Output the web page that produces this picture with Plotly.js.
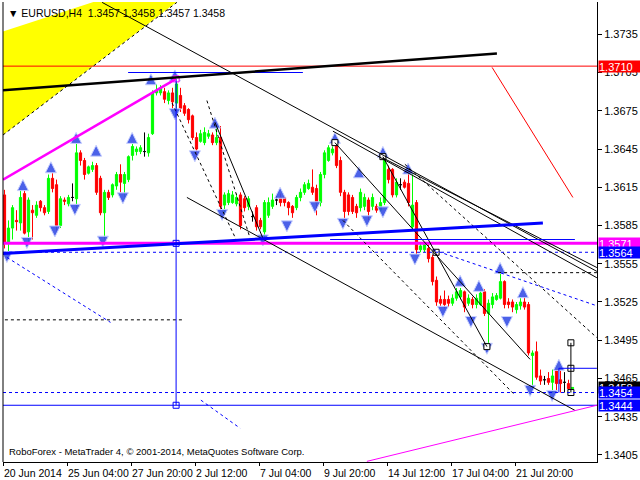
<!DOCTYPE html>
<html><head><meta charset="utf-8">
<script src="https://cdn.plot.ly/plotly-3.0.1.min.js"></script>
<style>html,body{margin:0;padding:0;background:#fff}#chart{width:640px;height:480px}</style>
</head><body><div id="chart"></div>
<script>
// ---- candle data (EURUSD H4), bar index = position in arrays ----
const openP  = [1.3609,1.3571,1.3583,1.3589,1.3587,1.3610,1.3580,1.3597,1.3593,1.3604,1.3599,1.3596,1.3622,1.3617,1.3585,1.3605,1.3602,1.3607,1.3606,1.3642,1.3636,1.3626,1.3629,1.3632,1.3622,1.3595,1.3611,1.3609,1.3616,1.3625,1.3618,1.3621,1.3640,1.3643,1.3643,1.3643,1.3642,1.3657,1.3689,1.3689,1.3690,1.3683,1.3689,1.3681,1.3687,1.3679,1.3676,1.3671,1.3654,1.3651,1.3650,1.3655,1.3656,1.3650,1.3654,1.3601,1.3603,1.3603,1.3602,1.3609,1.3606,1.3600,1.3592,1.3599,1.3589,1.3580,1.3593,1.3600,1.3605,1.3607,1.3607,1.3603,1.3600,1.3599,1.3607,1.3611,1.3614,1.3615,1.3614,1.3603,1.3625,1.3636,1.3642,1.3648,1.3636,1.3611,1.3609,1.3607,1.3600,1.3599,1.3600,1.3605,1.3600,1.3600,1.3597,1.3603,1.3629,1.3629,1.3609,1.3617,1.3619,1.3618,1.3584,1.3603,1.3566,1.3566,1.3567,1.3560,1.3542,1.3527,1.3527,1.3527,1.3524,1.3528,1.3529,1.3533,1.3524,1.3527,1.3523,1.3523,1.3533,1.3516,1.3523,1.3527,1.3528,1.3541,1.3525,1.3525,1.3519,1.3522,1.3525,1.3523,1.3483,1.3486,1.3467,1.3464,1.3465,1.3462,1.3472,1.3464,1.3462,1.3461,1.3457];
const highP  = [1.3613,1.3589,1.3601,1.3597,1.3613,1.3613,1.3607,1.3601,1.3604,1.3605,1.3601,1.3625,1.3626,1.3621,1.3608,1.3607,1.3609,1.3618,1.3650,1.3644,1.3638,1.3632,1.3635,1.3634,1.3624,1.3613,1.3613,1.3618,1.3627,1.3633,1.3627,1.3640,1.3649,1.3647,1.3648,1.3658,1.3657,1.3691,1.3696,1.3695,1.3693,1.3691,1.3693,1.3700,1.3693,1.3681,1.3677,1.3672,1.3658,1.3660,1.3662,1.3660,1.3658,1.3662,1.3663,1.3611,1.3613,1.3612,1.3610,1.3611,1.3608,1.3608,1.3596,1.3601,1.3591,1.3605,1.3607,1.3610,1.3608,1.3610,1.3608,1.3604,1.3601,1.3609,1.3614,1.3619,1.3621,1.3629,1.3617,1.3627,1.3644,1.3648,1.3647,1.3650,1.3639,1.3613,1.3611,1.3609,1.3602,1.3614,1.3610,1.3607,1.3610,1.3602,1.3607,1.3643,1.3632,1.3630,1.3622,1.3622,1.3621,1.3626,1.3626,1.3605,1.3572,1.3572,1.3570,1.3562,1.3545,1.3530,1.3534,1.3530,1.3531,1.3536,1.3536,1.3534,1.3531,1.3529,1.3531,1.3534,1.3535,1.3527,1.3532,1.3532,1.3548,1.3542,1.3528,1.3527,1.3525,1.3528,1.3529,1.3525,1.3487,1.3494,1.3472,1.3467,1.3470,1.3472,1.3472,1.3472,1.3470,1.3464,1.3458];
const lowP   = [1.3567,1.3564,1.3574,1.3581,1.3581,1.3578,1.3572,1.3574,1.3591,1.3596,1.3593,1.3594,1.3611,1.3581,1.3583,1.3601,1.3600,1.3604,1.3599,1.3632,1.3621,1.3625,1.3627,1.3609,1.3593,1.3574,1.3605,1.3607,1.3613,1.3611,1.3607,1.3619,1.3636,1.3640,1.3641,1.3639,1.3639,1.3656,1.3687,1.3687,1.3681,1.3680,1.3676,1.3676,1.3674,1.3671,1.3665,1.3652,1.3639,1.3650,1.3648,1.3653,1.3648,1.3648,1.3597,1.3595,1.3601,1.3602,1.3600,1.3582,1.3596,1.3597,1.3588,1.3581,1.3582,1.3575,1.3591,1.3598,1.3601,1.3600,1.3600,1.3593,1.3591,1.3597,1.3604,1.3609,1.3613,1.3609,1.3593,1.3600,1.3622,1.3635,1.3640,1.3630,1.3608,1.3588,1.3593,1.3594,1.3591,1.3596,1.3597,1.3589,1.3597,1.3595,1.3595,1.3601,1.3618,1.3607,1.3607,1.3613,1.3614,1.3600,1.3581,1.3562,1.3564,1.3564,1.3556,1.3538,1.3522,1.3522,1.3520,1.3521,1.3522,1.3526,1.3527,1.3517,1.3522,1.3520,1.3520,1.3522,1.3514,1.3490,1.3520,1.3526,1.3527,1.3520,1.3520,1.3517,1.3516,1.3519,1.3519,1.3483,1.3458,1.3464,1.3460,1.3460,1.3460,1.3454,1.3454,1.3454,1.3454,1.3454,1.3457];
const closeP = [1.3571,1.3583,1.3599,1.3588,1.3607,1.3579,1.3605,1.3595,1.3601,1.3599,1.3595,1.3622,1.3614,1.3585,1.3606,1.3604,1.3607,1.3607,1.3642,1.3636,1.3625,1.3631,1.3632,1.3611,1.3595,1.3611,1.3607,1.3617,1.3625,1.3619,1.3625,1.3639,1.3647,1.3645,1.3646,1.3643,1.3654,1.3689,1.3691,1.3693,1.3684,1.3689,1.3682,1.3696,1.3677,1.3673,1.3668,1.3654,1.3645,1.3657,1.3658,1.3657,1.3650,1.3654,1.3600,1.3609,1.3610,1.3609,1.3607,1.3585,1.3599,1.3606,1.3592,1.3584,1.3584,1.3603,1.3603,1.3605,1.3605,1.3603,1.3603,1.3599,1.3595,1.3607,1.3611,1.3617,1.3618,1.3611,1.3603,1.3625,1.3642,1.3646,1.3645,1.3632,1.3611,1.3596,1.3596,1.3596,1.3595,1.3611,1.3607,1.3596,1.3607,1.3597,1.3603,1.3639,1.3621,1.3609,1.3619,1.3617,1.3615,1.3603,1.3601,1.3566,1.3569,1.3570,1.3559,1.3541,1.3525,1.3524,1.3523,1.3524,1.3528,1.3533,1.3534,1.3521,1.3528,1.3523,1.3528,1.3532,1.3516,1.3524,1.3529,1.3530,1.3541,1.3523,1.3523,1.3521,1.3523,1.3525,1.3521,1.3485,1.3485,1.3466,1.3463,1.3464,1.3462,1.3467,1.3461,1.3461,1.3462,1.3457,1.3458];

// ---- axis ticks ----
const xTickBars   = [0,16,32,48,64,80,96,112,128];
const xTickLabels = ['20 Jun 2014','25 Jun 04:00','27 Jun 20:00','2 Jul 12:00','7 Jul 04:00','9 Jul 20:00','14 Jul 12:00','17 Jul 04:00','21 Jul 20:00'];
const yTickVals   = [1.3405,1.3435,1.3465,1.3495,1.3525,1.3555,1.3585,1.3615,1.3645,1.3675,1.3705,1.3735];

// ---- fractal arrows (bar, price) ----
const fracUpBar    = [4.6,11.6,17.9,22.9,31.9,36.6,42.6,52.6,68.9,82.6,88.6,94.6,100.9,113.9,118.6,123.9,129.6,138.6];
const fracUpPrice  = [1.3621,1.3635,1.3658,1.3648,1.3658,1.3704,1.3707,1.3670,1.3615,1.3658,1.3631,1.3647,1.3634,1.3546,1.3542,1.3556,1.3537,1.3480];
const fracDnBar    = [0.6,5.6,12.6,17.6,24.6,29.6,42.6,47.6,54.4,64.6,70.6,77.6,84.6,90.6,94.6,102.6,109.6,116.6,120.6,125.6,131.4,136.9];
const fracDnPrice  = [1.3556,1.3567,1.3576,1.3593,1.3568,1.3602,1.3668,1.3635,1.3589,1.3569,1.3580,1.3595,1.3582,1.3584,1.3591,1.3554,1.3513,1.3505,1.3484,1.3505,1.3451,1.3447];

// ---- drawn objects: [bar0, price0, bar1, price1] ----
const thickBlackLine   = [[-0.375,1.3691,123.1,1.3720]];
const redDiagLine      = [[121.9,1.3709,142.1,1.3607]];
const magentaChannel   = [[-0.375,1.3621,42.9,1.3700]];
const magentaLowLine   = [[90.6,1.3400,148.1,1.3444]];
const blueThickLine    = [[-0.375,1.3563,134.6,1.3587]];
const blackThinLines   = [[24.4,1.3760,148.1,1.3549],[82.1,1.3659,148.1,1.3544],[94.6,1.3638,148.1,1.3552],
                          [45.6,1.3607,142.6,1.3440],[52.6,1.3666,64.6,1.3575],[82.6,1.3650,131.4,1.3480],
                          [94.6,1.3639,120.6,1.3490],[141.6,1.3493,141.6,1.3454]];
const blackDashLines   = [[41.9,1.3681,57.9,1.3574],[50.6,1.3683,61.4,1.3575],[0.1,1.3511,45.1,1.3511],
                          [123.4,1.3548,148.1,1.3548],[-0.375,1.3656,43.1,1.3760],
                          [100.1,1.3633,148.1,1.3497],[84.6,1.3589,127.6,1.3452]];
const blueThinLines    = [[30.9,1.3705,74.6,1.3705],[81.4,1.3574,142.6,1.3574],[42.9,1.3700,42.9,1.3444],
                          [138.6,1.3473,148.1,1.3473],[138.6,1.3473,138.6,1.3454]];
const blueDashLines    = [[107.1,1.3566,148.1,1.3522],[49.1,1.3448,58.9,1.3426],[0.6,1.3560,26.5,1.3509]];
const yellowZone       = [[-5.4,1.3732],[39.5,1.3778],[50.4,1.3778],[-5.4,1.3644]];
const redLevel = 1.3710, magentaLevel = 1.3571, blueDashLevel = 1.3564, blueLevel = 1.3444, blueDashLevel2 = 1.3454;
const squaresBlue  = [[42.9,1.3571],[42.9,1.3444]];
const squaresMag   = [[42.9,1.3700]];
const squaresBlack = [[82.6,1.3650],[94.6,1.3639],[107.9,1.3564],[120.6,1.3490],[141.6,1.3493],[141.6,1.3473],[141.6,1.3454]];
const priceTags = [['1.3710',1.3710,'#ff0000'],['1.3571',1.3571,'#ff00ff'],['1.3564',1.3564,'#0000ff'],
                   ['1.3458',1.3458,'#000000'],['1.3454',1.3454,'#0000ff'],['1.3444',1.3444,'#0000ff']];

// ---- build traces ----
const N = openP.length;
const idx = [...Array(N).keys()];
const norm = idx.filter(i => openP[i] !== closeP[i]);
const doji = idx.filter(i => openP[i] === closeP[i]);
const pick = (a, ids) => ids.map(i => a[i]);

const arrowMarker = sym => ({symbol:sym, size:11, color:'rgba(55,80,230,0.9)', line:{color:'#c8d0ff', width:1}});
const traces = [
  {type:'candlestick', x: norm, open: pick(openP,norm), high: pick(highP,norm), low: pick(lowP,norm), close: pick(closeP,norm),
   increasing:{line:{color:'#00ff00',width:1},fillcolor:'#00ff00'},
   decreasing:{line:{color:'#ff0000',width:1},fillcolor:'#ff0000'},
   whiskerwidth:0, hoverinfo:'skip', showlegend:false},
  {type:'candlestick', x: doji, open: pick(openP,doji), high: pick(highP,doji), low: pick(lowP,doji), close: pick(closeP,doji),
   increasing:{line:{color:'#000000',width:1},fillcolor:'#000000'},
   decreasing:{line:{color:'#000000',width:1},fillcolor:'#000000'},
   whiskerwidth:0, hoverinfo:'skip', showlegend:false},
  {type:'scatter', mode:'markers', x: fracUpBar, y: fracUpPrice, hoverinfo:'skip', showlegend:false, marker: arrowMarker('arrow-up')},
  {type:'scatter', mode:'markers', x: fracDnBar, y: fracDnPrice, hoverinfo:'skip', showlegend:false, marker: arrowMarker('arrow-down')},
  {type:'scatter', mode:'markers', x: squaresBlue.map(p=>p[0]), y: squaresBlue.map(p=>p[1]), hoverinfo:'skip', showlegend:false,
   marker:{symbol:'square', size:6, color:'#ffffff', line:{color:'#0000ff', width:1}}},
  {type:'scatter', mode:'markers', x: squaresMag.map(p=>p[0]), y: squaresMag.map(p=>p[1]), hoverinfo:'skip', showlegend:false,
   marker:{symbol:'square', size:6, color:'#ffffff', line:{color:'#ff00ff', width:1}}},
  {type:'scatter', mode:'markers', x: squaresBlack.map(p=>p[0]), y: squaresBlack.map(p=>p[1]), hoverinfo:'skip', showlegend:false,
   marker:{symbol:'square', size:6, color:'#ffffff', line:{color:'#000000', width:1}}}
];

// ---- shapes ----
const shapes = [];
const seg = (s, color, width, dash) => shapes.push({type:'line', xref:'x', yref:'y', x0:s[0], y0:s[1], x1:s[2], y1:s[3],
  line:{color, width, dash: dash || 'solid'}});
const hline = (p, color, width, dash) => shapes.push({type:'line', xref:'paper', yref:'y', x0:0, x1:1, y0:p, y1:p,
  line:{color, width, dash: dash || 'solid'}});

shapes.push({type:'path', xref:'x', yref:'y', layer:'below', line:{width:0}, fillcolor:'#ffff00',
  path: 'M' + yellowZone.map(p => p[0] + ',' + p[1]).join(' L') + ' Z'});
hline(redLevel, '#ff0000', 1);
hline(blueDashLevel, '#0000ff', 1, '3px,3px');
hline(blueDashLevel2, '#0000ff', 1, '3px,3px');
hline(blueLevel, '#0000ff', 1);
hline(magentaLevel, '#ff00ff', 3);
blackDashLines.forEach(s => seg(s, '#000000', 1, '3px,3px'));
blueDashLines.forEach(s => seg(s, '#0000ff', 1, '3px,3px'));
blackThinLines.forEach(s => seg(s, '#000000', 1));
blueThinLines.forEach(s => seg(s, '#0000ff', 1));
redDiagLine.forEach(s => seg(s, '#ff0000', 1));
magentaLowLine.forEach(s => seg(s, '#ff00ff', 1));
magentaChannel.forEach(s => seg(s, '#ff00ff', 2.5));
blueThickLine.forEach(s => seg(s, '#0000ff', 3));
thickBlackLine.forEach(s => seg(s, '#000000', 2.5));
shapes.push({type:'line', xref:'paper', yref:'paper', x0:0, x1:0, y0:0, y1:1, line:{color:'#000', width:1}});

// ---- annotations ----
const FONT = 'Liberation Sans, Arial, sans-serif';
const annotations = [];
xTickBars.forEach((b, i) => annotations.push({xref:'x', yref:'paper', x: b - 0.375, y: 0, xanchor:'left', yanchor:'top',
  yshift:-3, xshift:-1, text: xTickLabels[i], showarrow:false, font:{family:FONT, size:10.5, color:'#000'}}));
priceTags.forEach(t => annotations.push({xref:'paper', yref:'y', x:1, y:t[1], xanchor:'left', yanchor:'middle', xshift:1,
  text:t[0], showarrow:false, bgcolor:t[2], width:42, height:11, align:'left', borderpad:0,
  font:{family:FONT, size:11, color:'#ffffff'}}));
annotations.push({xref:'paper', yref:'paper', x:0, y:1, xanchor:'left', yanchor:'top', xshift:3, yshift:-3,
  text:'▼ EURUSD,H4  1.3457 1.3458 1.3457 1.3458', showarrow:false, font:{family:FONT, size:10.5, color:'#000'}});
annotations.push({xref:'paper', yref:'paper', x:0, y:0, xanchor:'left', yanchor:'bottom', xshift:4, yshift:3,
  text:'RoboForex - MetaTrader 4, © 2001-2014, MetaQuotes Software Corp.', showarrow:false, font:{family:FONT, size:9.5, color:'#000'}});

const layout = {
  width:640, height:480, margin:{l:3, r:43, t:2, b:18},
  paper_bgcolor:'#ffffff', plot_bgcolor:'#ffffff',
  showlegend:false, boxgap:0.45, boxgroupgap:0, hovermode:false,
  xaxis:{range:[-0.375,148.125], showgrid:false, zeroline:false, showline:true, linecolor:'#000', linewidth:1,
         tickvals: xTickBars.map(b => b - 0.375), ticks:'outside', ticklen:3, tickcolor:'#000', showticklabels:false,
         rangeslider:{visible:false}, fixedrange:true},
  yaxis:{side:'right', range:[1.33995,1.37603], showgrid:false, zeroline:false, showline:true, linecolor:'#000', linewidth:1,
         tickvals: yTickVals, ticktext: yTickVals.map(v => v.toFixed(4)), ticks:'outside', ticklen:4, tickcolor:'#000',
         tickfont:{family:FONT, size:11, color:'#000'}, fixedrange:true},
  shapes, annotations
};
Plotly.newPlot('chart', traces, layout, {staticPlot:true, displayModeBar:false});
</script></body></html>
